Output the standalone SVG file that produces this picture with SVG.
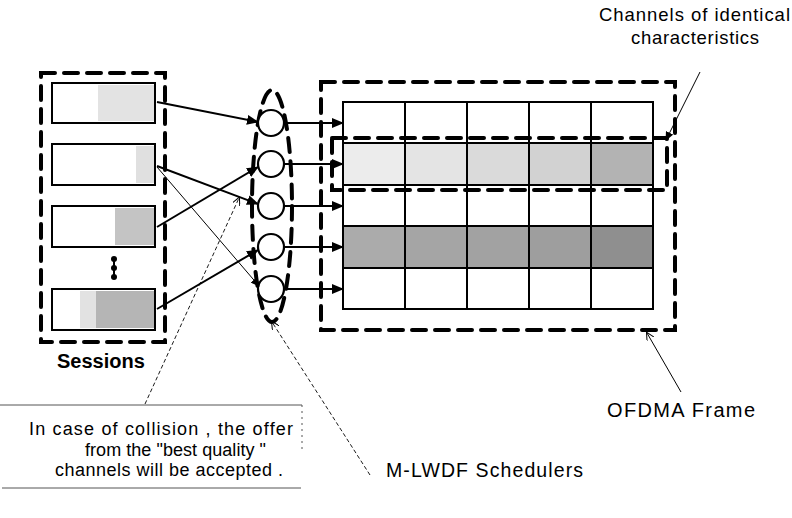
<svg xmlns="http://www.w3.org/2000/svg" width="792" height="518" viewBox="0 0 792 518">
<style>
.dash{fill:none;stroke:#000;stroke-width:4;stroke-dasharray:14 9;stroke-linecap:round}
.box{fill:#fff;stroke:#000;stroke-width:2}
.cell{stroke:#000;stroke-width:2}
.conn{fill:none;stroke:#000;stroke-width:2}
.thin{fill:none;stroke:#000;stroke-width:1}
.lead{fill:none;stroke:#000;stroke-width:0.9;stroke-dasharray:4 2.5}
.t{font-family:"Liberation Sans",Arial,sans-serif;fill:#000}
</style>
<defs>
<marker id="ah" markerUnits="userSpaceOnUse" markerWidth="12" markerHeight="10" refX="11" refY="5" orient="auto">
<path d="M0,0 L12,5 L0,10 Z" fill="#000"/>
</marker>
<marker id="ahs" markerUnits="userSpaceOnUse" markerWidth="9" markerHeight="8" refX="8" refY="4" orient="auto">
<path d="M0,0 L9,4 L0,8 Z" fill="#000"/>
</marker>
<marker id="tip" markerUnits="userSpaceOnUse" markerWidth="8" markerHeight="8" refX="7" refY="4" orient="auto">
<path d="M0,0 L8,4 L0,8" fill="none" stroke="#000" stroke-width="1"/>
</marker>
</defs>
<rect width="792" height="518" fill="#fff"/>

<g id="sessions">
<rect class="dash" x="41" y="73" width="124" height="269"/>
<g id="session1"><rect class="box" x="52" y="83" width="103" height="40"/><rect x="98" y="85" width="56" height="36" fill="#e3e3e3"/></g>
<g id="session2"><rect class="box" x="52" y="144" width="103" height="41"/><rect x="136" y="146" width="18" height="37" fill="#e0e0e0"/></g>
<g id="session3"><rect class="box" x="52" y="206" width="103" height="41"/><rect x="115" y="208" width="39" height="37" fill="#c4c4c4"/></g>
<circle cx="114" cy="259" r="3"/><circle cx="114" cy="268" r="3"/><circle cx="114" cy="277" r="3"/>
<line x1="114" y1="259" x2="114" y2="277" stroke="#000" stroke-width="2"/>
<g id="session4"><rect class="box" x="52" y="289" width="103" height="41"/><rect x="80" y="291" width="16" height="37" fill="#e2e2e2"/><rect x="96" y="291" width="58" height="37" fill="#b5b5b5"/></g>
<text class="t" x="57" y="368" font-size="20" font-weight="bold">Sessions</text>
</g>

<g id="schedulers">
<ellipse class="dash" cx="272" cy="206" rx="20" ry="116"/>
<circle cx="271" cy="123" r="13" fill="#fff" stroke="#000" stroke-width="2.2"/>
<circle cx="271" cy="164" r="13" fill="#fff" stroke="#000" stroke-width="2.2"/>
<circle cx="271" cy="206" r="13" fill="#fff" stroke="#000" stroke-width="2.2"/>
<circle cx="271" cy="247" r="13" fill="#fff" stroke="#000" stroke-width="2.2"/>
<circle cx="271" cy="289" r="13" fill="#fff" stroke="#000" stroke-width="2.2"/>
</g>

<g id="ofdma-frame">
<rect class="dash" x="321" y="82" width="354" height="248"/>
<g id="grid">
<rect x="343" y="143" width="62" height="42" fill="#ececec"/>
<rect x="405" y="143" width="62" height="42" fill="#e4e4e4"/>
<rect x="467" y="143" width="62" height="42" fill="#dadada"/>
<rect x="529" y="143" width="62" height="42" fill="#d2d2d2"/>
<rect x="591" y="143" width="62" height="42" fill="#b3b3b3"/>
<rect x="343" y="226" width="62" height="42" fill="#ababab"/>
<rect x="405" y="226" width="62" height="42" fill="#a5a5a5"/>
<rect x="467" y="226" width="62" height="42" fill="#a2a2a2"/>
<rect x="529" y="226" width="62" height="42" fill="#9e9e9e"/>
<rect x="591" y="226" width="62" height="42" fill="#8f8f8f"/>
<rect x="343" y="102" width="310" height="207" fill="none" stroke="#000" stroke-width="2"/>
<path d="M405,102V309M467,102V309M529,102V309M591,102V309M343,143H653M343,185H653M343,226H653M343,268H653" class="cell" fill="none"/>
</g>
<rect id="identical-channels" class="dash" x="332" y="138" width="335" height="52"/>
<text class="t" x="599" y="21" font-size="18.5" textLength="191" lengthAdjust="spacing">Channels of identical</text>
<text class="t" x="631" y="44" font-size="18.5" textLength="128" lengthAdjust="spacing">characteristics</text>
<text class="t" x="607" y="417" font-size="20" textLength="148" lengthAdjust="spacing">OFDMA Frame</text>
</g>

<g id="callout">
<path d="M0,405H302" stroke="#555" stroke-width="1" fill="none"/>
<path d="M302,405V450" stroke="#555" stroke-width="1" stroke-dasharray="2 4" fill="none"/>
<path d="M2,488H301" stroke="#555" stroke-width="1" fill="none"/>
<text class="t" x="29" y="435" font-size="18" textLength="264" lengthAdjust="spacing">In case of collision , the offer</text>
<text class="t" x="85" y="456" font-size="18" textLength="181" lengthAdjust="spacing">from the "best quality "</text>
<text class="t" x="55" y="476" font-size="18" textLength="228" lengthAdjust="spacing">channels will be accepted .</text>
</g>

<g id="mlwdf-label">
<text class="t" x="386" y="477" font-size="19.5" textLength="197" lengthAdjust="spacing">M-LWDF Schedulers</text>
</g>

<g id="connectors">
<line class="conn" x1="157" y1="102" x2="258" y2="122" marker-end="url(#ah)"/>
<line class="conn" x1="157" y1="166" x2="258" y2="204" marker-end="url(#ah)"/>
<line class="conn" x1="157" y1="227" x2="258" y2="167" marker-end="url(#ah)"/>
<line class="conn" x1="157" y1="309" x2="258" y2="250" marker-end="url(#ah)"/>
<line class="thin" x1="157" y1="167" x2="259" y2="286" marker-end="url(#ahs)"/>
<line class="conn" x1="284" y1="123" x2="343" y2="123" marker-end="url(#ah)"/>
<line class="conn" x1="284" y1="164" x2="343" y2="164" marker-end="url(#ah)"/>
<line class="conn" x1="284" y1="206" x2="343" y2="206" marker-end="url(#ah)"/>
<line class="conn" x1="284" y1="247" x2="343" y2="247" marker-end="url(#ah)"/>
<line class="conn" x1="284" y1="289" x2="343" y2="289" marker-end="url(#ah)"/>
<line class="lead" x1="145" y1="404" x2="239" y2="198" marker-end="url(#tip)"/>
<line class="lead" x1="370" y1="475" x2="272" y2="322" marker-end="url(#tip)"/>
<line class="thin" x1="700" y1="72" x2="666" y2="140" marker-end="url(#ahs)"/>
<line class="thin" x1="681" y1="392" x2="647" y2="333" marker-end="url(#tip)"/>
</g>
</svg>
